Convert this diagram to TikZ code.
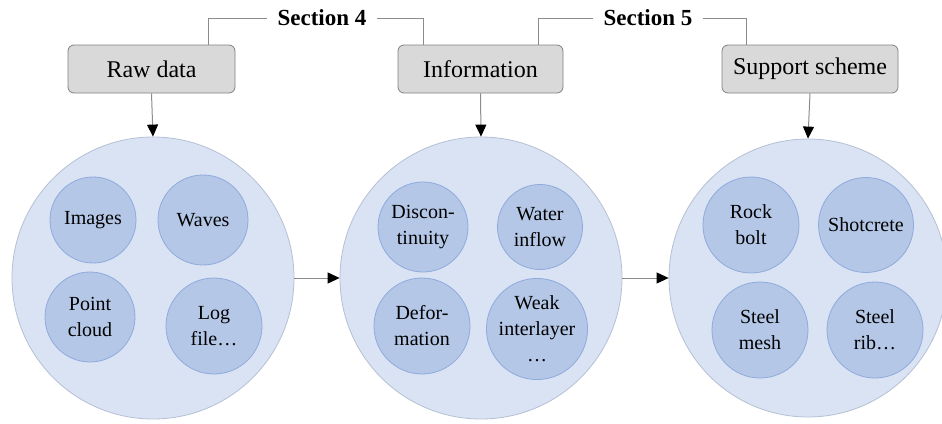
\documentclass[tikz,border=0pt]{standalone}
\usepackage{fontspec}
\setmainfont{LiberationSerif}[Extension=.ttf, UprightFont=*-Regular, BoldFont=*-Bold, ItalicFont=*-Italic, BoldItalicFont=*-BoldItalic]
\usetikzlibrary{arrows.meta}
\definecolor{bigfill}{HTML}{DAE3F3}
\definecolor{bigline}{HTML}{B4C0D4}
\definecolor{smallfill}{HTML}{B4C7E7}
\definecolor{smallline}{HTML}{8FAADC}
\definecolor{boxfill}{HTML}{D9D9D9}
\definecolor{boxline}{HTML}{808080}
\definecolor{conn}{HTML}{8C8C8C}
\tikzset{
  bigcirc/.style={circle, draw=bigline, fill=bigfill, line width=0.8pt, inner sep=0pt},
  smallcirc/.style={circle, draw=smallline, fill=smallfill, line width=0.8pt, inner sep=0pt, align=center,
    font=\fontsize{20}{26}\selectfont},
  topbox/.style={rectangle, rounded corners=6pt, draw=boxline, fill=boxfill, line width=0.8pt,
    minimum height=48pt, inner sep=0pt, font=\fontsize{24}{28}\selectfont},
  seclabel/.style={inner xsep=10pt, inner ysep=2pt, font=\fontsize{23}{27}\selectfont\bfseries},
  arr/.style={draw=conn, line width=1pt, -{Triangle[length=12pt,width=11pt,fill=black,color=black]}},
  link/.style={draw=conn, line width=1pt}
}
\begin{document}
\begin{tikzpicture}[x=1pt,y=-1pt]
\useasboundingbox (0,0) rectangle (942,423);
% top boxes
\node[topbox, minimum width=167pt] (raw) at (151.5,69) {Raw data};
\node[topbox, minimum width=165pt] (info) at (480.5,69) {Information};
\node[topbox, minimum width=176pt] (supp) at (810,69) {Support scheme};
% section labels
\node[seclabel] (s4) at (322,18) {Section 4};
\node[seclabel] (s5) at (648,18) {Section 5};
\draw[link] ([xshift=56.5pt]raw.north) |- (s4.west);
\draw[link] (s4.east) -| ([xshift=-57.5pt]info.north);
\draw[link] ([xshift=57.5pt]info.north) |- (s5.west);
\draw[link] (s5.east) -| ([xshift=-64pt]supp.north);
% big circles
\node[bigcirc, minimum size=282pt] (c1) at (153,278) {};
\node[bigcirc, minimum size=282pt] (c2) at (481,278) {};
\node[bigcirc, minimum size=278pt] (c3) at (808,278) {};
% small circles, group 1
\node[smallcirc, minimum size=86pt] (img) at (93,220) {Images};
\node[smallcirc, minimum size=90pt] (wav) at (203,220) {Waves};
\node[smallcirc, minimum size=90pt] (pc) at (90,317) {Point\\cloud};
\node[smallcirc, minimum size=96pt] (log) at (214,326) {Log\\file…};
% group 2
\node[smallcirc, minimum size=90pt] (dis) at (423,227) {Discon-\\tinuity};
\node[smallcirc, minimum size=85pt] (wat) at (540,227) {Water\\inflow};
\node[smallcirc, minimum size=96pt] (def) at (422,326) {Defor-\\mation};
\node[smallcirc, minimum size=99pt] (weak) at (537,329) {Weak\\interlayer\\…};
% group 3
\node[smallcirc, minimum size=96pt] (rock) at (751,225) {Rock\\bolt};
\node[smallcirc, minimum size=95pt] (shot) at (866,225) {Shotcrete};
\node[smallcirc, minimum size=96pt] (mesh) at (760,330) {Steel\\mesh};
\node[smallcirc, minimum size=96pt] (rib) at (875,330) {Steel\\rib…};
% arrows
\draw[arr] (raw.south) -- (c1.north);
\draw[arr] (info.south) -- (c2.north);
\draw[arr] (supp.south) -- (c3.north);
\draw[arr] (c1.east) -- (c2.west);
\draw[arr] (c2.east) -- (c3.west);
\end{tikzpicture}
\end{document}
